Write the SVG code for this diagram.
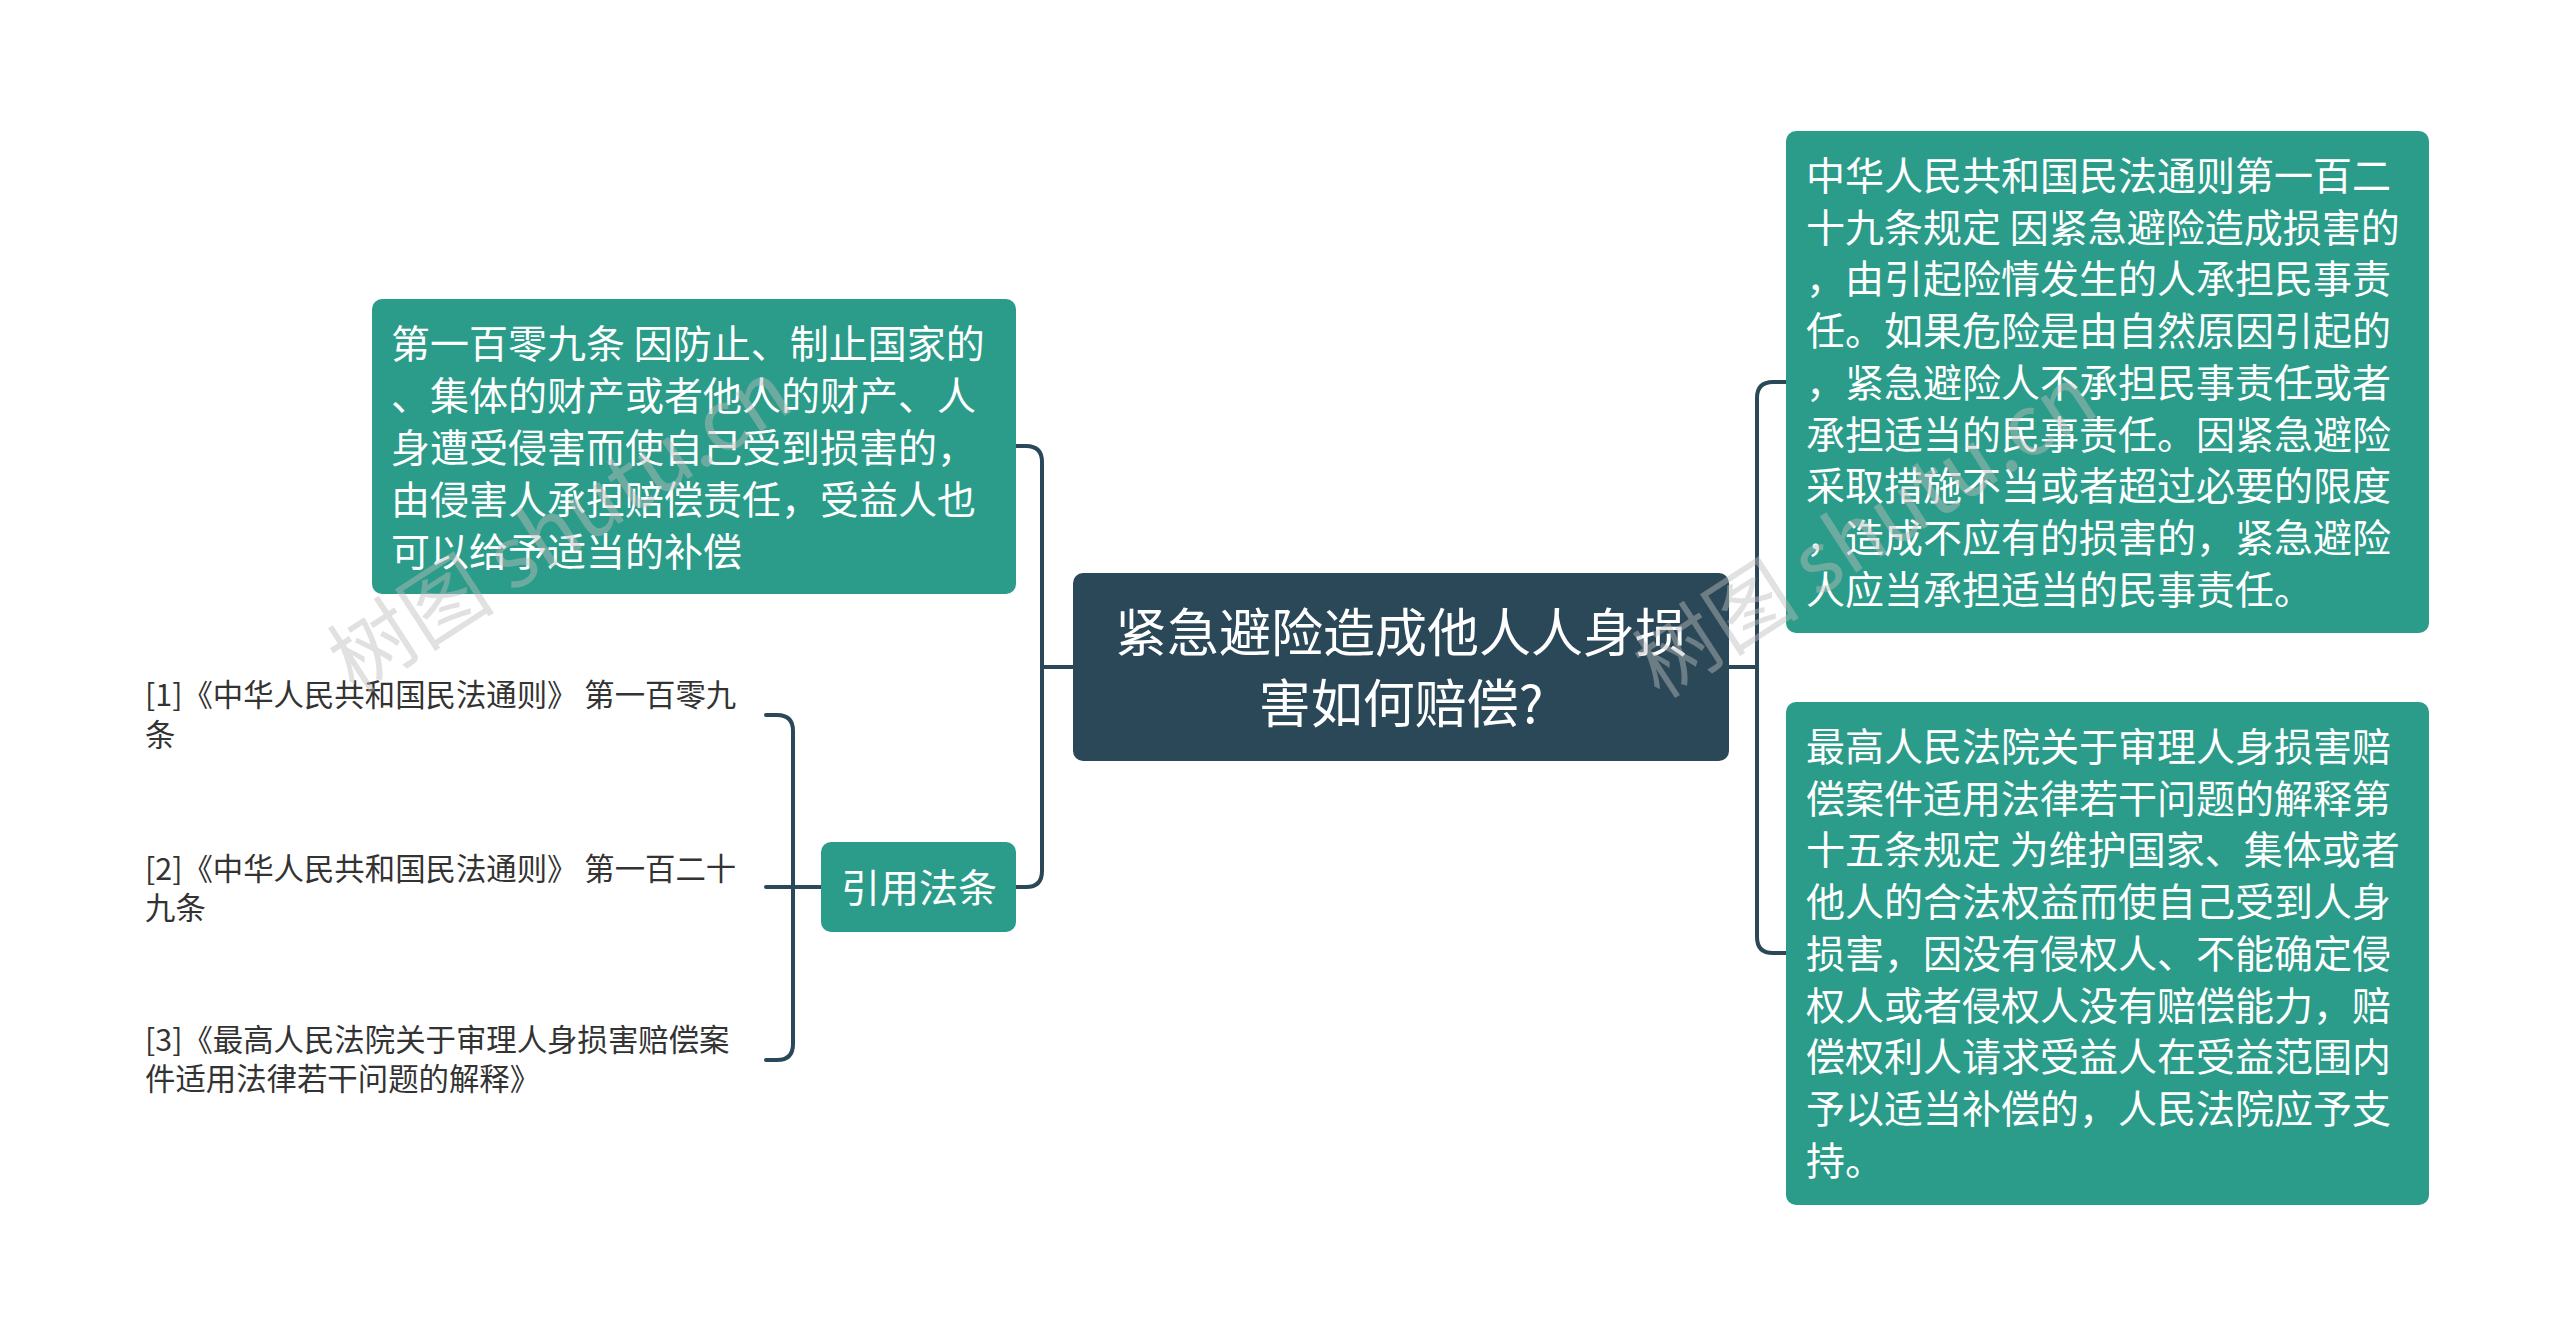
<svg xmlns="http://www.w3.org/2000/svg" width="2560" height="1336" viewBox="0 0 2560 1336">
<style>
.bg{fill:#ffffff}
.teal{fill:#2b9c89}
.root{fill:#2a4858}
.conn{fill:none;stroke:#2a4858;stroke-width:4;stroke-linecap:round}
.t{font-family:"Noto Sans CJK SC","Noto Sans",sans-serif;fill:#ffffff}
.rt{font-size:52px}
.nt{font-size:39px}
.lf{font-family:"Noto Sans CJK SC","Noto Sans",sans-serif;font-size:30.4px;fill:#333333}
.wm{font-family:"Noto Sans CJK SC","Liberation Serif",serif;font-size:84px;fill:#bdbdbd;opacity:0.45}
</style>
<rect class="bg" x="0" y="0" width="2560" height="1336"/>
<g id="connectors">
<path class="conn" d="M1073,667 H1042"/>
<path class="conn" d="M1016,446 H1026 Q1042,446 1042,462 V871 Q1042,887 1026,887 H1016"/>
<path class="conn" d="M1729,667 H1757"/>
<path class="conn" d="M1786,382 H1773 Q1757,382 1757,398 V937 Q1757,953 1773,953 H1786"/>
<path class="conn" d="M821,887 H766"/>
<path class="conn" d="M766,715 H777 Q793,715 793,731 V1044 Q793,1060 777,1060 H766"/>
</g>
<g id="root">
<rect class="root" x="1073" y="573" width="656" height="188" rx="10"/>
<text class="t rt" x="1401" text-anchor="middle"><tspan x="1401" y="652">紧急避险造成他人人身损</tspan><tspan x="1401" y="723">害如何赔偿?</tspan></text>
</g>
<g id="node-109">
<rect class="teal" x="372" y="299" width="644" height="295" rx="10"/>
<text class="t nt"><tspan x="391" y="358">第一百零九条 因防止、制止国家的</tspan><tspan x="391" y="410">、集体的财产或者他人的财产、人</tspan><tspan x="391" y="462">身遭受侵害而使自己受到损害的，</tspan><tspan x="391" y="514">由侵害人承担赔偿责任，受益人也</tspan><tspan x="391" y="566">可以给予适当的补偿</tspan></text>
</g>
<g id="node-cite">
<rect class="teal" x="821" y="842" width="195" height="90" rx="10"/>
<text class="t nt" x="919" y="902" text-anchor="middle">引用法条</text>
</g>
<g id="leaf-1">
<text class="lf"><tspan x="145" y="706">[1]《中华人民共和国民法通则》 第一百零九</tspan><tspan x="145" y="746">条</tspan></text>
</g>
<g id="leaf-2">
<text class="lf"><tspan x="145" y="880">[2]《中华人民共和国民法通则》 第一百二十</tspan><tspan x="145" y="919">九条</tspan></text>
</g>
<g id="leaf-3">
<text class="lf"><tspan x="145" y="1051">[3]《最高人民法院关于审理人身损害赔偿案</tspan><tspan x="145" y="1090">件适用法律若干问题的解释》</tspan></text>
</g>
<g id="node-129">
<rect class="teal" x="1786" y="131" width="643" height="502" rx="10"/>
<text class="t nt"><tspan x="1806" y="190">中华人民共和国民法通则第一百二</tspan><tspan x="1806" y="242">十九条规定 因紧急避险造成损害的</tspan><tspan x="1806" y="293">，由引起险情发生的人承担民事责</tspan><tspan x="1806" y="345">任。如果危险是由自然原因引起的</tspan><tspan x="1806" y="397">，紧急避险人不承担民事责任或者</tspan><tspan x="1806" y="449">承担适当的民事责任。因紧急避险</tspan><tspan x="1806" y="500">采取措施不当或者超过必要的限度</tspan><tspan x="1806" y="552">，造成不应有的损害的，紧急避险</tspan><tspan x="1806" y="604">人应当承担适当的民事责任。</tspan></text>
</g>
<g id="node-interp">
<rect class="teal" x="1786" y="702" width="643" height="503" rx="10"/>
<text class="t nt"><tspan x="1806" y="761">最高人民法院关于审理人身损害赔</tspan><tspan x="1806" y="813">偿案件适用法律若干问题的解释第</tspan><tspan x="1806" y="864">十五条规定 为维护国家、集体或者</tspan><tspan x="1806" y="916">他人的合法权益而使自己受到人身</tspan><tspan x="1806" y="968">损害，因没有侵权人、不能确定侵</tspan><tspan x="1806" y="1020">权人或者侵权人没有赔偿能力，赔</tspan><tspan x="1806" y="1071">偿权利人请求受益人在受益范围内</tspan><tspan x="1806" y="1123">予以适当补偿的，人民法院应予支</tspan><tspan x="1806" y="1175">持。</tspan></text>
</g>
<g id="watermarks">
<text class="wm" transform="translate(355,695) rotate(-33)">树图 shutu.cn</text>
<text class="wm" transform="translate(1660,700) rotate(-33)">树图 shutu.cn</text>
</g>
</svg>
